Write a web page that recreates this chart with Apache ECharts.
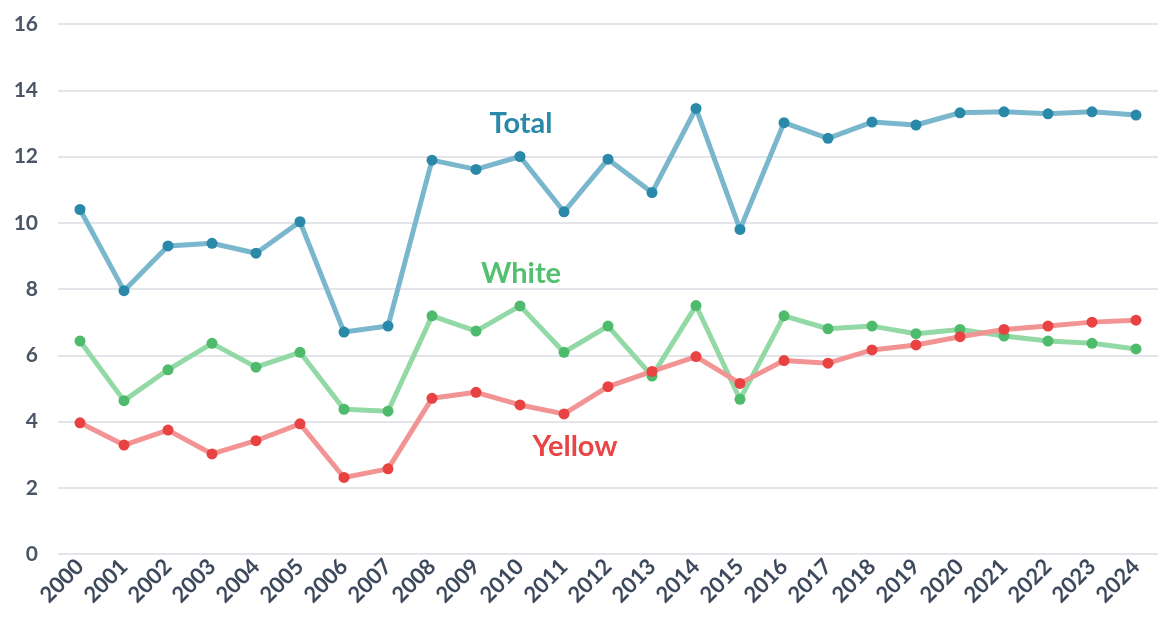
<!DOCTYPE html>
<html>
<head>
<meta charset="utf-8">
<script src="https://cdn.jsdelivr.net/npm/echarts@6/dist/echarts.min.js"></script>
<style>
  html, body { margin: 0; padding: 0; background: #fff; }
  #chart { width: 1158px; height: 626px; }
</style>
</head>
<body>
<div id="chart"></div>
<script>
const years = ['2000', '2001', '2002', '2003', '2004', '2005', '2006', '2007', '2008', '2009',
  '2010', '2011', '2012', '2013', '2014', '2015', '2016', '2017', '2018', '2019',
  '2020', '2021', '2022', '2023', '2024']

const total = [10.4, 7.95, 9.3, 9.38, 9.08, 10.03, 6.7, 6.88, 11.89, 11.61,
  12.0, 10.33, 11.92, 10.91, 13.45, 9.8, 13.02, 12.55, 13.04, 12.95,
  13.32, 13.35, 13.29, 13.35, 13.25]

const white = [6.43, 4.63, 5.56, 6.36, 5.64, 6.09, 4.37, 4.31, 7.19, 6.73,
  7.49, 6.09, 6.88, 5.37, 7.5, 4.67, 7.19, 6.8, 6.88, 6.65,
  6.78, 6.58, 6.43, 6.36, 6.19]

const yellow = [3.96, 3.29, 3.74, 3.02, 3.42, 3.93, 2.31, 2.57, 4.7, 4.88,
  4.5, 4.23, 5.05, 5.51, 5.96, 5.15, 5.84, 5.76, 6.16, 6.31,
  6.56, 6.78, 6.88, 7.0, 7.06]

const chart = echarts.init(document.getElementById('chart'))

function lineSeries(name, data, lineColor, dotColor) {
  return {
    name: name,
    type: 'line',
    data: data,
    symbol: 'circle',
    symbolSize: 11,
    itemStyle: { color: dotColor },
    lineStyle: { color: lineColor, width: 5 },
    emphasis: { disabled: true },
    animation: false
  }
}

// series name written inside the plot, centred on cx
function label(text, cx, y, color) {
  return {
    type: 'text',
    x: cx,
    y: y,
    style: {
      text: text,
      fill: color,
      font: 'bold 29px Lato',
      align: 'center',
      verticalAlign: 'top'
    }
  }
}

chart.setOption({
  grid: { left: 58, right: -4, top: 24, bottom: 72 },
  xAxis: {
    type: 'category',
    data: years,
    boundaryGap: true,
    axisLine: { show: false },
    axisTick: { show: false },
    axisLabel: {
      rotate: 45,
      margin: 9,
      color: '#3d4a5e',
      fontFamily: 'Lato',
      fontWeight: 'bold',
      fontSize: 22,
      interval: 0
    }
  },
  yAxis: {
    type: 'value',
    min: 0,
    max: 16,
    interval: 2,
    axisLine: { show: false },
    axisTick: { show: false },
    axisLabel: {
      margin: 20,
      color: '#4a5568',
      fontFamily: 'Lato',
      fontWeight: 'bold',
      fontSize: 21
    },
    splitLine: { lineStyle: { color: '#e3e5eb', width: 2 } }
  },
  graphic: [
    label('Total', 521, 109, '#2a88a8'),
    label('White', 521, 259, '#52c06f'),
    label('Yellow', 575, 432, '#e84545')
  ],
  series: [
    lineSeries('White', white, '#93d9a6', '#4dbb6b'),
    lineSeries('Yellow', yellow, '#f39494', '#e84242'),
    lineSeries('Total', total, '#7ab7cd', '#2a88a8')
  ]
})
</script>
</body>
</html>
